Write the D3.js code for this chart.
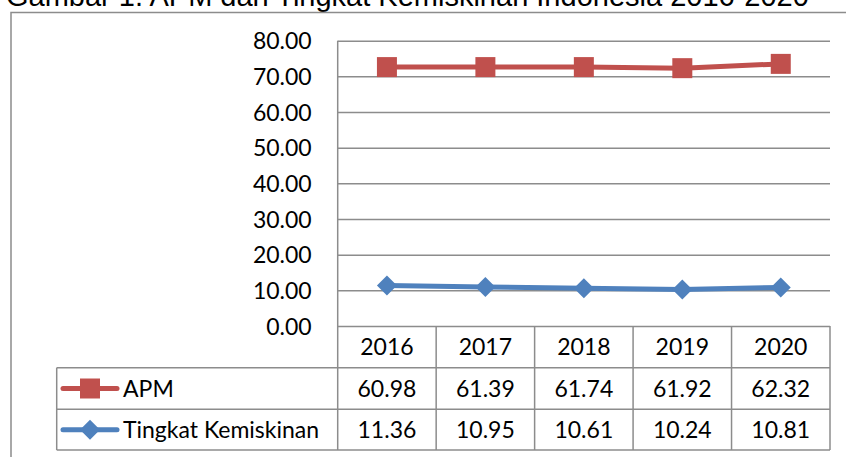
<!DOCTYPE html>
<meta charset="utf-8">
<head>
    <title>APM dan Tingkat Kemiskinan</title>
</head>
<style>
 body { margin: 0; background: #fff; }
 .grid line { stroke: #8c8c8c; stroke-width: 1.5px; }
 .grid path { display: none; }
 .tick text, .cell { font-family: Lato, "Open Sans", sans-serif; font-size: 23px; fill: #000; }
 .tbl { stroke: #8c8c8c; stroke-width: 1.5px; fill: none; }
 .title { font-family: "Liberation Sans", Arial, sans-serif; font-size: 29px; fill: #000; }
</style>
<body>
    <div id="chart"></div>
    <script src="https://d3js.org/d3.v7.min.js"></script>
    <script>

     var years = ["2016", "2017", "2018", "2019", "2020"];
     // values shown in the data table
     var apmTable = ["60.98", "61.39", "61.74", "61.92", "62.32"];
     var miskinTable = ["11.36", "10.95", "10.61", "10.24", "10.81"];
     // values as the lines are drawn in the picture
     var apmLine = [72.6, 72.6, 72.6, 72.3, 73.5];
     var miskinLine = [11.36, 10.95, 10.61, 10.24, 10.81];
     var yTicks = [0, 10, 20, 30, 40, 50, 60, 70, 80];

     var width = 846, height = 457;
     var red = "#c0504d", blue = "#4f81bd";

     var svg = d3.select("#chart").append("svg")
                 .attr("width", width)
                 .attr("height", height);

     var x = d3.scaleBand().domain(years).range([337.7, 830]);
     var y = d3.scaleLinear().domain([0, 80]).range([326, 40.7]);

     // title (cut off at the top as in the source)
     svg.append("text")
        .attr("class", "title")
        .attr("x", 6)
        .attr("y", 6)
        .text("Gambar 1. APM dan Tingkat Kemiskinan Indonesia 2016-2020");

     // outer frame
     svg.append("path")
        .attr("class", "tbl")
        .attr("d", "M11," + height + "V12.5H" + width);

     // gridlines + y labels
     var yAxis = svg.append("g")
        .attr("class", "grid")
        .attr("transform", "translate(830,0)")
        .call(d3.axisLeft(y).tickValues(yTicks)
                .tickSize(830 - 337.7)
                .tickFormat(d3.format(".2f")));
     yAxis.selectAll(".tick text")
          .attr("x", -(830 - 311.7))
          .attr("dy", "0.36em");

     // data table
     var rows = [326, 367.7, 409.3, 450];
     var tbl = svg.append("g");
     tbl.append("line").attr("class", "tbl")
        .attr("x1", 337.7).attr("x2", 337.7)
        .attr("y1", y(80)).attr("y2", rows[3]);
     tbl.selectAll("line.col")
        .data(years)
        .enter().append("line")
        .attr("class", "tbl col")
        .attr("x1", function(d) { return x(d) + x.bandwidth(); })
        .attr("x2", function(d) { return x(d) + x.bandwidth(); })
        .attr("y1", rows[0]).attr("y2", rows[3]);
     tbl.selectAll("line.row")
        .data(rows.slice(1))
        .enter().append("line")
        .attr("class", "tbl row")
        .attr("x1", 56.7).attr("x2", 830)
        .attr("y1", function(d) { return d; })
        .attr("y2", function(d) { return d; });
     tbl.append("line").attr("class", "tbl")
        .attr("x1", 56.7).attr("x2", 56.7)
        .attr("y1", rows[1]).attr("y2", rows[3]);

     var rowText = [years, apmTable, miskinTable];
     rowText.forEach(function(vals, r) {
         tbl.selectAll("text.r" + r)
            .data(vals)
            .enter().append("text")
            .attr("class", "cell r" + r)
            .attr("text-anchor", "middle")
            .attr("x", function(d, i) { return x(years[i]) + x.bandwidth() / 2; })
            .attr("y", (rows[r] + rows[r + 1]) / 2)
            .attr("dy", "0.36em")
            .text(function(d) { return d; });
     });

     var series = [
         {name: "APM", values: apmLine, color: red, rot: 0, size: 400},
         {name: "Tingkat Kemiskinan", values: miskinLine, color: blue, rot: 45, size: 200}
     ];

     var line = d3.line()
                  .x(function(d, i) { return x(years[i]) + x.bandwidth() / 2; })
                  .y(function(d) { return y(d); });

     series.forEach(function(s, k) {
         var sym = d3.symbol().type(d3.symbolSquare).size(s.size);
         svg.append("path")
            .datum(s.values)
            .attr("fill", "none")
            .attr("stroke", s.color)
            .attr("stroke-width", 5)
            .attr("d", line);
         svg.selectAll("path.m" + k)
            .data(s.values)
            .enter().append("path")
            .attr("class", "m" + k)
            .attr("fill", s.color)
            .attr("transform", function(d, i) {
                return "translate(" + (x(years[i]) + x.bandwidth() / 2) + "," + y(d) + ") rotate(" + s.rot + ")";
            })
            .attr("d", sym);

         // legend key in table
         var cy = (rows[k + 1] + rows[k + 2]) / 2;
         var key = svg.append("g").attr("transform", "translate(90," + cy + ")");
         key.append("line")
            .attr("x1", -27).attr("x2", 27)
            .attr("stroke", s.color)
            .attr("stroke-width", 5)
            .attr("stroke-linecap", "round");
         key.append("path")
            .attr("fill", s.color)
            .attr("transform", "rotate(" + s.rot + ")")
            .attr("d", sym);
         svg.append("text")
            .attr("class", "cell")
            .attr("x", 123)
            .attr("y", cy)
            .attr("dy", "0.36em")
            .text(s.name);
     });
    </script>
</body>
